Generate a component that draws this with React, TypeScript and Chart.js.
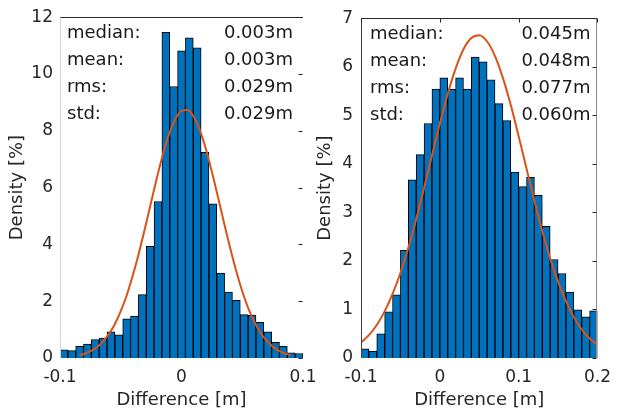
import React, { useEffect, useRef } from 'react';
import { Chart, registerables } from 'chart.js';

Chart.register(...registerables);

const FONT_FAMILY = '"DejaVu Sans", "Liberation Sans", sans-serif';
const TEXT_COLOR = '#262626';
const BAR_COLOR = '#0072BD';
const BAR_EDGE = '#000000';
const CURVE_COLOR = '#D95319';

// ---------- data ----------
const STAT_LABELS = ['median:', 'mean:', 'rms:', 'std:'];
const LEFT_STATS = ['0.003m', '0.003m', '0.029m', '0.029m'];
const RIGHT_STATS = ['0.045m', '0.048m', '0.077m', '0.060m'];

const LEFT_X_TICKS = [-0.1, 0, 0.1];
const LEFT_Y_TICKS = [0, 2, 4, 6, 8, 10, 12];
const RIGHT_X_TICKS = [-0.1, 0, 0.1, 0.2];
const RIGHT_Y_TICKS = [0, 1, 2, 3, 4, 5, 6, 7];

const LEFT_BIN_START = -0.1;
const LEFT_BIN_END = 0.1;
const LEFT_DENSITY = [
  0.29, 0.26, 0.41, 0.49, 0.65, 0.70, 0.92, 0.82, 1.38, 1.48,
  2.23, 3.93, 5.51, 11.47, 9.56, 10.82, 11.27, 10.92, 7.24, 5.43,
  2.99, 2.32, 2.03, 1.53, 1.50, 1.26, 0.92, 0.55, 0.41, 0.18, 0.16,
];

const RIGHT_BIN_START = -0.1;
const RIGHT_BIN_END = 0.2;
const RIGHT_DENSITY = [
  0.19, 0.14, 0.50, 0.95, 1.30, 2.22, 3.67, 4.19, 4.83, 5.54,
  5.77, 5.54, 5.77, 5.54, 6.20, 6.10, 5.73, 5.24, 4.89, 3.83,
  3.53, 3.72, 3.35, 2.71, 2.03, 1.74, 1.36, 0.99, 0.85, 0.97,
];

const LEFT_CURVE_X = [
  -0.084, -0.08, -0.075, -0.07, -0.065, -0.06, -0.055, -0.05, -0.045, -0.04,
  -0.035, -0.03, -0.025, -0.02, -0.015, -0.01, -0.005, 0.0, 0.005, 0.01,
  0.015, 0.02, 0.025, 0.03, 0.035, 0.04, 0.045, 0.05, 0.055, 0.06,
  0.065, 0.07, 0.075, 0.08, 0.085, 0.09,
];
const LEFT_CURVE_Y = [
  0.10, 0.15, 0.24, 0.37, 0.56, 0.83, 1.18, 1.65, 2.22, 2.92,
  3.71, 4.58, 5.49, 6.39, 7.22, 7.91, 8.42, 8.70, 8.73, 8.50,
  8.03, 7.37, 6.56, 5.67, 4.76, 3.88, 3.07, 2.35, 1.75, 1.27,
  0.89, 0.61, 0.40, 0.26, 0.16, 0.10,
];

const RIGHT_CURVE_X = [
  -0.1, -0.09, -0.08, -0.07, -0.06, -0.05, -0.04, -0.03, -0.02, -0.01,
  0.0, 0.01, 0.02, 0.03, 0.04, 0.05, 0.06, 0.07, 0.08, 0.09,
  0.1, 0.11, 0.12, 0.13, 0.14, 0.15, 0.16, 0.17, 0.18, 0.19, 0.2,
];
const RIGHT_CURVE_Y = [
  0.32, 0.47, 0.68, 0.96, 1.32, 1.75, 2.27, 2.86, 3.50, 4.17,
  4.83, 5.44, 5.96, 6.36, 6.59, 6.65, 6.52, 6.22, 5.77, 5.21,
  4.57, 3.90, 3.24, 2.61, 2.05, 1.57, 1.17, 0.84, 0.59, 0.40, 0.27,
];

// ---------- panel setup ----------
type Panel = {
  canvasLeft: number;
  canvasWidth: number;
  yAxisWidth: number;
  padRight: number;
  binStart: number;
  binEnd: number;
  density: number[];
  curveX: number[];
  curveY: number[];
  xTicks: number[];
  yTicks: number[];
  stats: string[];
  yTitlePad: number;
  yTickPad: number;
  labelInset: number;
  valueInset: number;
  frameTop: string | null;
  frameLeft: string | null;
  frameRight: string | null;
  rightTicks: string | null;
  topTicks: string | null;
};

const PANELS: Panel[] = [
  {
    canvasLeft: 0,
    canvasWidth: 330,
    yAxisWidth: 60,
    padRight: 27,
    binStart: LEFT_BIN_START,
    binEnd: LEFT_BIN_END,
    density: LEFT_DENSITY,
    curveX: LEFT_CURVE_X,
    curveY: LEFT_CURVE_Y,
    xTicks: LEFT_X_TICKS,
    yTicks: LEFT_Y_TICKS,
    stats: LEFT_STATS,
    yTitlePad: 7,
    yTickPad: 7,
    labelInset: 7,
    valueInset: 10,
    frameTop: '#262626',
    frameLeft: '#d6d6d6',
    frameRight: null,
    rightTicks: '#262626',
    topTicks: null,
  },
  {
    canvasLeft: 310,
    canvasWidth: 310,
    yAxisWidth: 51,
    padRight: 15,
    binStart: RIGHT_BIN_START,
    binEnd: RIGHT_BIN_END,
    density: RIGHT_DENSITY,
    curveX: RIGHT_CURVE_X,
    curveY: RIGHT_CURVE_Y,
    xTicks: RIGHT_X_TICKS,
    yTicks: RIGHT_Y_TICKS,
    stats: RIGHT_STATS,
    yTitlePad: 5,
    yTickPad: 8,
    labelInset: 9,
    valueInset: 7,
    frameTop: '#262626',
    frameLeft: '#404040',
    frameRight: '#8c8c8c',
    rightTicks: '#262626',
    topTicks: '#262626',
  },
];

function fmtTick(v: number): string {
  if (Math.abs(v) < 1e-12) return '0';
  return String(Math.round(v * 1000) / 1000);
}

function buildChart(canvas: HTMLCanvasElement, p: Panel): Chart {
  const n = p.density.length;
  const w = (p.binEnd - p.binStart) / n;
  const bars = p.density.map((d, i) => ({ x: p.binStart + (i + 0.5) * w, y: d }));
  const curve = p.curveX.map((x, i) => ({ x, y: p.curveY[i] }));

  const framePlugin = {
    id: 'matFrame',
    afterDatasetsDraw(chart: any) {
      const { ctx, chartArea: a } = chart;
      const xs = chart.scales.x;
      const ys = chart.scales.y;
      const L = Math.round(a.left) + 0.5;
      const R = Math.round(a.right) - 0.5;
      const T = Math.round(a.top) + 0.5;
      const B = Math.round(a.bottom) - 0.5;
      const line = (x1: number, y1: number, x2: number, y2: number, c: string) => {
        ctx.strokeStyle = c;
        ctx.beginPath();
        ctx.moveTo(x1, y1);
        ctx.lineTo(x2, y2);
        ctx.stroke();
      };
      ctx.save();
      ctx.lineWidth = 1;
      if (p.frameTop) line(L - 0.5, T, R + 0.5, T, p.frameTop);
      if (p.frameLeft) line(L, T, L, B + 0.5, p.frameLeft);
      if (p.frameRight) line(R, T, R, B + 0.5, p.frameRight);
      if (p.rightTicks) {
        for (const v of p.yTicks) {
          const y = Math.round(ys.getPixelForValue(v)) + 0.5;
          line(R - 4, y, R, y, p.rightTicks);
        }
      }
      if (p.topTicks) {
        for (const v of p.xTicks) {
          const x = Math.round(xs.getPixelForValue(v)) + 0.5;
          line(x, T, x, T + 4, p.topTicks);
        }
      }
      // statistics text
      ctx.font = `18px ${FONT_FAMILY}`;
      ctx.fillStyle = '#1a1a1a';
      ctx.textBaseline = 'middle';
      STAT_LABELS.forEach((lab, i) => {
        const y = a.top + 16 + i * 27.2;
        ctx.textAlign = 'left';
        ctx.fillText(lab, a.left + p.labelInset, y);
        ctx.textAlign = 'right';
        ctx.fillText(p.stats[i], a.right - p.valueInset, y);
      });
      ctx.restore();
    },
  };

  return new Chart(canvas, {
    type: 'bar',
    data: {
      datasets: [
        {
          type: 'bar',
          data: bars as any,
          backgroundColor: BAR_COLOR,
          borderColor: BAR_EDGE,
          borderWidth: 1,
          barPercentage: 1,
          categoryPercentage: 1,
          order: 2,
        },
        {
          type: 'line',
          data: curve as any,
          borderColor: CURVE_COLOR,
          borderWidth: 2,
          pointRadius: 0,
          fill: false,
          cubicInterpolationMode: 'monotone',
          order: 1,
        } as any,
      ],
    },
    options: {
      animation: false,
      responsive: false,
      events: [],
      layout: { padding: { top: 17, right: p.padRight, left: 0, bottom: 0 } },
      plugins: { legend: { display: false }, tooltip: { enabled: false } },
      scales: {
        x: {
          type: 'linear',
          min: p.binStart,
          max: p.binEnd,
          offset: false,
          grid: { display: false, drawTicks: false, offset: false },
          border: { display: false },
          afterBuildTicks: (scale: any) => {
            scale.ticks = p.xTicks.map((v) => ({ value: v }));
          },
          afterFit: (scale: any) => {
            scale.height = 54;
          },
          ticks: {
            color: TEXT_COLOR,
            font: { family: FONT_FAMILY, size: 17 },
            padding: 9,
            maxRotation: 0,
            autoSkip: false,
            callback: (v: any) => fmtTick(Number(v)),
          },
          title: {
            display: true,
            text: 'Difference [m]',
            color: TEXT_COLOR,
            font: { family: FONT_FAMILY, size: 18 },
            padding: { top: 0, bottom: 1 },
          },
        },
        y: {
          type: 'linear',
          min: 0,
          max: p.yTicks[p.yTicks.length - 1],
          grid: { display: false, drawTicks: false },
          border: { display: false },
          afterBuildTicks: (scale: any) => {
            scale.ticks = p.yTicks.map((v) => ({ value: v }));
          },
          afterFit: (scale: any) => {
            scale.width = p.yAxisWidth;
          },
          ticks: {
            color: TEXT_COLOR,
            font: { family: FONT_FAMILY, size: 17 },
            padding: p.yTickPad,
            autoSkip: false,
            callback: (v: any) => fmtTick(Number(v)),
          },
          title: {
            display: true,
            text: 'Density [%]',
            color: TEXT_COLOR,
            font: { family: FONT_FAMILY, size: 18 },
            padding: { top: p.yTitlePad, bottom: 0 },
          },
        },
      },
    },
    plugins: [framePlugin],
  } as any);
}

function HistPanel({ panel }: { panel: Panel }) {
  const ref = useRef<HTMLCanvasElement | null>(null);
  useEffect(() => {
    if (!ref.current) return;
    const chart = buildChart(ref.current, panel);
    return () => chart.destroy();
  }, [panel]);
  return (
    <canvas
      ref={ref}
      width={panel.canvasWidth}
      height={412}
      style={{
        position: 'absolute',
        left: panel.canvasLeft,
        top: 0,
        width: panel.canvasWidth,
        height: 412,
      }}
    />
  );
}

export default function App() {
  useEffect(() => {
    document.body.style.margin = '0';
    document.body.style.background = '#ffffff';
  }, []);
  return (
    <div style={{ position: 'relative', width: 620, height: 412, overflow: 'hidden', background: '#fff' }}>
      {PANELS.map((p, i) => (
        <HistPanel key={i} panel={p} />
      ))}
    </div>
  );
}
